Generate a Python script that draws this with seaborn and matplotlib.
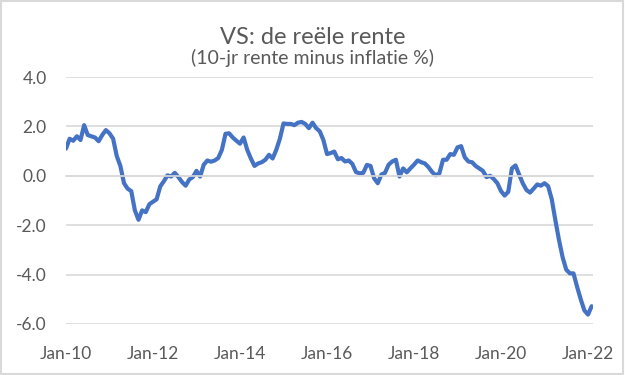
import numpy as np
import pandas as pd
import matplotlib
matplotlib.use("Agg")
import matplotlib.pyplot as plt
import seaborn as sns
from matplotlib.patches import Rectangle

# ---- data (monthly, Jan-2010 .. Feb-2022) ----
real_rate = [
    1.10, 1.50, 1.42, 1.60, 1.45, 2.05, 1.65, 1.60, 1.55, 1.40, 1.65, 1.85,   # 2010
    1.72, 1.50, 0.80, 0.40, -0.30, -0.52, -0.62, -1.40, -1.78, -1.40, -1.47, -1.15,  # 2011
    -1.05, -0.95, -0.43, -0.22, 0.02, -0.03, 0.12, -0.05, -0.25, -0.40, -0.15, -0.05,  # 2012
    0.20, -0.03, 0.45, 0.62, 0.57, 0.62, 0.72, 1.05, 1.70, 1.72, 1.55, 1.42,   # 2013
    1.30, 1.55, 1.05, 0.70, 0.40, 0.50, 0.55, 0.65, 0.85, 0.70, 1.05, 1.50,    # 2014
    2.12, 2.10, 2.10, 2.05, 2.15, 2.18, 2.10, 1.93, 2.15, 1.93, 1.80, 1.45,    # 2015
    0.88, 0.92, 0.98, 0.67, 0.72, 0.58, 0.62, 0.48, 0.15, 0.10, 0.12, 0.44,    # 2016
    0.40, -0.10, -0.30, 0.05, 0.12, 0.45, 0.58, 0.65, -0.03, 0.30, 0.14, 0.30,  # 2017
    0.45, 0.62, 0.55, 0.50, 0.35, 0.15, 0.02, 0.10, 0.65, 0.65, 0.88, 0.85,    # 2018
    1.15, 1.20, 0.75, 0.58, 0.55, 0.40, 0.30, 0.20, -0.05, 0.00, -0.13, -0.30,  # 2019
    -0.62, -0.80, -0.65, 0.30, 0.42, 0.05, -0.30, -0.57, -0.68, -0.52, -0.35, -0.40,  # 2020
    -0.30, -0.42, -0.95, -1.80, -2.60, -3.30, -3.80, -3.95, -3.95, -4.50, -5.00, -5.45,  # 2021
    -5.62, -5.28,  # 2022
]
months = list(range(len(real_rate)))
tick_months = [0, 24, 48, 72, 96, 120, 144]
tick_labels = ["Jan-10", "Jan-12", "Jan-14", "Jan-16", "Jan-18", "Jan-20", "Jan-22"]
y_ticks = [-6.0, -4.0, -2.0, 0.0, 2.0, 4.0]

df = pd.DataFrame({"month": months, "rate": real_rate})

sns.set_theme(style="white")
plt.rcParams["font.family"] = ["Lato", "DejaVu Sans"]

TXT = "#595959"
GRID = "#d9d9d9"
BLUE = "#4472C4"

fig = plt.figure(figsize=(6.25, 3.75), dpi=100)
ax = fig.add_axes([66/625, 1 - 324/375, (593 - 66)/625, (324 - 77)/375])

sns.lineplot(data=df, x="month", y="rate", ax=ax, color=BLUE, linewidth=3.0)

ax.set_xlim(0, (593 - 66) / 3.625)
ax.set_ylim(-6, 4)
ax.set_yticks(y_ticks)
ax.set_yticklabels([f"{v:.1f}" for v in y_ticks])
ax.yaxis.grid(True, color=GRID, linewidth=1.2)
ax.set_axisbelow(True)
ax.set_xlabel("")
ax.set_ylabel("")
for s in ["top", "right", "left"]:
    ax.spines[s].set_visible(False)
ax.spines["bottom"].set_position(("data", 0))
ax.spines["bottom"].set_color(GRID)
ax.spines["bottom"].set_linewidth(1.2)
ax.set_xticks(tick_months)
ax.tick_params(axis="x", direction="out", length=4, width=1.2, color=GRID,
               labelbottom=False)
ax.tick_params(axis="y", length=0, pad=14, labelsize=12.5, labelcolor=TXT)

sec = ax.secondary_xaxis("bottom")
sec.set_xticks(tick_months)
sec.set_xticklabels(tick_labels)
sec.tick_params(length=0, pad=15.5, labelsize=12.5, labelcolor=TXT)
for s in sec.spines.values():
    s.set_visible(False)

fig.text(0.5, 1 - 37/375, "VS: de reële rente", ha="center", va="center",
         fontsize=17, color=TXT)
fig.text(0.5, 1 - 58/375, "(10-jr rente minus inflatie %)", ha="center",
         va="center", fontsize=14, color=TXT)

fig.patches.append(Rectangle((0.002, 0.003), 0.995, 0.994, transform=fig.transFigure,
                             fill=False, edgecolor=GRID, linewidth=1.5))

fig.savefig("out.png", dpi=100, facecolor="white")
